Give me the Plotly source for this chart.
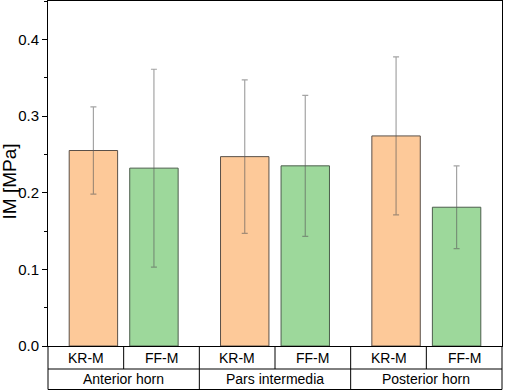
import plotly.graph_objects as go

regions = ["Anterior horn", "Pars intermedia", "Posterior horn"]
groups = ["KR-M", "FF-M"]
kr_mean = [0.255, 0.247, 0.274]
kr_err = [0.057, 0.100, 0.103]
ff_mean = [0.232, 0.235, 0.181]
ff_err = [0.129, 0.092, 0.054]
y_ticks = [0.0, 0.1, 0.2, 0.3, 0.4]

# bar positions on a numeric axis (two bars per region, gap between regions)
kr_x = [0.0, 2.5, 5.0]
ff_x = [1.0, 3.5, 6.0]
XMIN, XMAX = -0.75, 6.75

W, H = 505, 390
ML, MR, MT, MB = 48, 3, 1, 44
plot_w = W - ML - MR
plot_h = H - MT - MB

fig = go.Figure()
err_style = dict(type="data", visible=True, color="rgba(90,90,90,0.55)", thickness=1.2, width=3)
fig.add_trace(go.Bar(x=kr_x, y=kr_mean, width=0.8, name="KR-M",
                     marker=dict(color="#FDC999", line=dict(color="#5a5048", width=1)),
                     error_y=dict(array=kr_err, **err_style)))
fig.add_trace(go.Bar(x=ff_x, y=ff_mean, width=0.8, name="FF-M",
                     marker=dict(color="#9DD89B", line=dict(color="#4d5e4d", width=1)),
                     error_y=dict(array=ff_err, **err_style)))

def px(xv):
    return (xv - XMIN) / (XMAX - XMIN)

row1 = -23 / plot_h
row2 = -(MB - 0.5) / plot_h

shapes = []
line = dict(color="black", width=1)
for yy in [row1, row2]:
    shapes.append(dict(type="line", xref="paper", yref="paper", x0=0, x1=1, y0=yy, y1=yy, line=line))
for i in range(len(regions)):
    a = kr_x[i] - 0.75
    b = ff_x[i] + 0.75
    mid = (a + b) / 2
    shapes.append(dict(type="line", xref="paper", yref="paper", x0=px(mid), x1=px(mid), y0=0, y1=row1, line=line))
    shapes.append(dict(type="line", xref="paper", yref="paper", x0=px(b), x1=px(b), y0=0, y1=row2, line=line))
shapes.append(dict(type="line", xref="paper", yref="paper", x0=0, x1=0, y0=0, y1=row2, line=line))

annotations = []
font = dict(family="Liberation Sans, Arial, sans-serif", size=14, color="black")
for i, reg in enumerate(regions):
    a = kr_x[i] - 0.75
    b = ff_x[i] + 0.75
    mid = (a + b) / 2
    annotations.append(dict(text=groups[0], xref="x", yref="paper", x=(a + mid) / 2, y=row1 / 2,
                            showarrow=False, font=font, xanchor="center", yanchor="middle"))
    annotations.append(dict(text=groups[1], xref="x", yref="paper", x=(mid + b) / 2, y=row1 / 2,
                            showarrow=False, font=font, xanchor="center", yanchor="middle"))
    annotations.append(dict(text=reg, xref="x", yref="paper", x=(a + b) / 2, y=(row1 + row2) / 2,
                            showarrow=False, font=font, xanchor="center", yanchor="middle"))

# y-axis title as rotated annotation
annotations.append(dict(text="IM [MPa]", xref="paper", yref="paper", x=(9 - ML) / plot_w,
                        y=(346 - 181.5) / plot_h, textangle=-90, showarrow=False,
                        font=dict(family="Liberation Sans, Arial, sans-serif", size=19, color="black"),
                        xanchor="center", yanchor="middle"))

fig.update_layout(
    width=W, height=H,
    margin=dict(l=ML, r=MR, t=MT, b=MB),
    paper_bgcolor="white", plot_bgcolor="white",
    barmode="overlay", showlegend=False,
    font=dict(family="Liberation Sans, Arial, sans-serif", size=14, color="black"),
    shapes=shapes, annotations=annotations,
    xaxis=dict(range=[XMIN, XMAX], showticklabels=False, ticks="", showgrid=False, zeroline=False,
               showline=True, linecolor="black", linewidth=1, mirror=True, fixedrange=True),
    yaxis=dict(range=[0, 0.45], tickvals=y_ticks, tickformat=".1f", ticks="outside", ticklen=5,
               tickwidth=1, tickcolor="black", showgrid=False, zeroline=False,
               showline=True, linecolor="black", linewidth=1, mirror=True,
               minor=dict(dtick=0.05, ticks="outside", ticklen=3, tickcolor="black", tick0=0),
               tickfont=dict(size=15)),
)

fig.write_html("out.html", config={"displayModeBar": False},
               post_script="document.body.style.margin='0';document.body.style.overflow='hidden';")
